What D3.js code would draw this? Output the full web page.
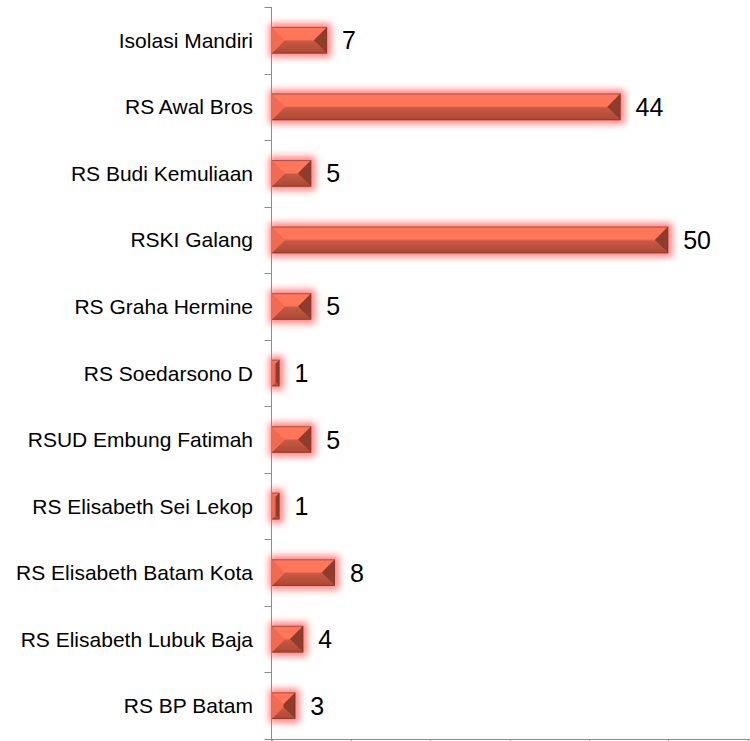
<!DOCTYPE html>
<html>
<head>
<meta charset="utf-8">
<script src="https://cdn.jsdelivr.net/npm/d3@7"></script>
<style>
  html, body { margin: 0; padding: 0; background: #fff; }
  svg { display: block; font-family: "Liberation Sans", Arial, sans-serif; }
</style>
</head>
<body>
<div id="chart"></div>
<script>
// Data, top to bottom as in the picture
const categories = [
  'Isolasi Mandiri', 'RS Awal Bros', 'RS Budi Kemuliaan', 'RSKI Galang',
  'RS Graha Hermine', 'RS Soedarsono D', 'RSUD Embung Fatimah',
  'RS Elisabeth Sei Lekop', 'RS Elisabeth Batam Kota',
  'RS Elisabeth Lubuk Baja', 'RS BP Batam'
];
const values = [7, 44, 5, 50, 5, 1, 5, 1, 8, 4, 3];
const xTicks = [0, 10, 20, 30, 40, 50, 60];

const W = 750, H = 741;
const plotL = 271.5, plotR = 747.5, plotT = 7, plotB = 739;

const svg = d3.select('#chart').append('svg')
  .attr('width', W).attr('height', H);

const defs = svg.append('defs');
const glow = defs.append('filter').attr('id', 'glow')
  .attr('x', '-50%').attr('y', '-50%').attr('width', '200%').attr('height', '200%');
glow.append('feGaussianBlur').attr('stdDeviation', 3.5);

const botGrad = defs.append('linearGradient').attr('id', 'botGrad')
  .attr('x1', 0).attr('y1', 0).attr('x2', 0).attr('y2', 1);
botGrad.append('stop').attr('offset', '0%').attr('stop-color', '#c85a43');
botGrad.append('stop').attr('offset', '100%').attr('stop-color', '#a84834');

const x = d3.scaleLinear().domain([0, 60]).range([plotL, plotR]);
const y = d3.scaleBand().domain(categories).range([plotT, plotB]).paddingInner(0.6).paddingOuter(0.3);
const band = (plotB - plotT) / categories.length;

// bars
const bars = svg.append('g').selectAll('g').data(values).join('g');

bars.each(function (v, i) {
  const g = d3.select(this);
  const x0 = x(0), x1 = x(v);
  const y0 = y(categories[i]), h = y.bandwidth(), y1 = y0 + h;
  const w = x1 - x0;
  const b = Math.min(h / 2, w / 2, 13);
  const ym = y0 + h / 2;

  g.append('rect')
    .attr('x', x0 - 2).attr('y', y0 - 3.5)
    .attr('width', w + 6).attr('height', h + 7)
    .attr('fill', '#ff5a5a').attr('opacity', 0.8)
    .attr('filter', 'url(#glow)');

  const poly = (pts, fill) => g.append('polygon')
    .attr('points', pts.map(p => p.join(',')).join(' '))
    .attr('fill', fill);

  // face behind bevels
  g.append('rect').attr('x', x0).attr('y', y0).attr('width', w).attr('height', h).attr('fill', '#ff7358');
  // top bevel
  poly([[x0, y0], [x1, y0], [x1 - b, y0 + b], [x0 + b, y0 + b]], '#ff7659');
  // lower face / bevel
  poly([[x0, y1], [x1, y1], [x1 - b, y1 - b], [x0 + b, y1 - b]], 'url(#botGrad)');
  // middle face (if bevels don't meet)
  if (y1 - b > y0 + b) {
    g.append('rect').attr('x', x0 + b).attr('y', y0 + b)
      .attr('width', Math.max(0, w - 2 * b)).attr('height', y1 - y0 - 2 * b)
      .attr('fill', '#e0644b');
  }
  // left bevel
  poly([[x0, y0], [x0 + b, y0 + b], [x0 + b, y1 - b], [x0, y1]], '#f26b50');
  // right bevel
  poly([[x1, y0], [x1 - b, y0 + b], [x1 - b, y1 - b], [x1, y1]], '#8e3d2c');
  // dark outline
  g.append('rect').attr('x', x0).attr('y', y0 + 0.5).attr('width', w - 0.5).attr('height', h - 1)
    .attr('fill', 'none').attr('stroke', '#7a3527').attr('stroke-width', 1).attr('opacity', 0.55);

  // value label
  g.append('text')
    .attr('x', x1 + 15).attr('y', ym + 9)
    .attr('font-size', 25).attr('fill', '#000')
    .text(v);
});

// axes
const axisColor = '#8c8c8c';
const ax = svg.append('g').attr('stroke', axisColor).attr('stroke-width', 1);
ax.append('line').attr('x1', plotL).attr('x2', plotL).attr('y1', plotT).attr('y2', plotB + 6);
ax.append('line').attr('x1', plotL - 6).attr('x2', W).attr('y1', plotB + 0.5).attr('y2', plotB + 0.5);

d3.range(categories.length + 1).forEach(k => {
  const yy = Math.round(plotT + k * band) + 0.5;
  ax.append('line').attr('x1', plotL - 7).attr('x2', plotL).attr('y1', yy).attr('y2', yy);
});
xTicks.forEach(t => {
  const xx = Math.round(x(t)) + 0.5;
  ax.append('line').attr('x1', xx).attr('x2', xx).attr('y1', plotB).attr('y2', plotB + 6);
});

// category labels
svg.append('g').selectAll('text').data(categories).join('text')
  .attr('x', 253)
  .attr('y', d => y(d) + y.bandwidth() / 2 + 7.5)
  .attr('text-anchor', 'end')
  .attr('font-size', 21)
  .attr('fill', '#000')
  .text(d => d);
</script>
</body>
</html>
